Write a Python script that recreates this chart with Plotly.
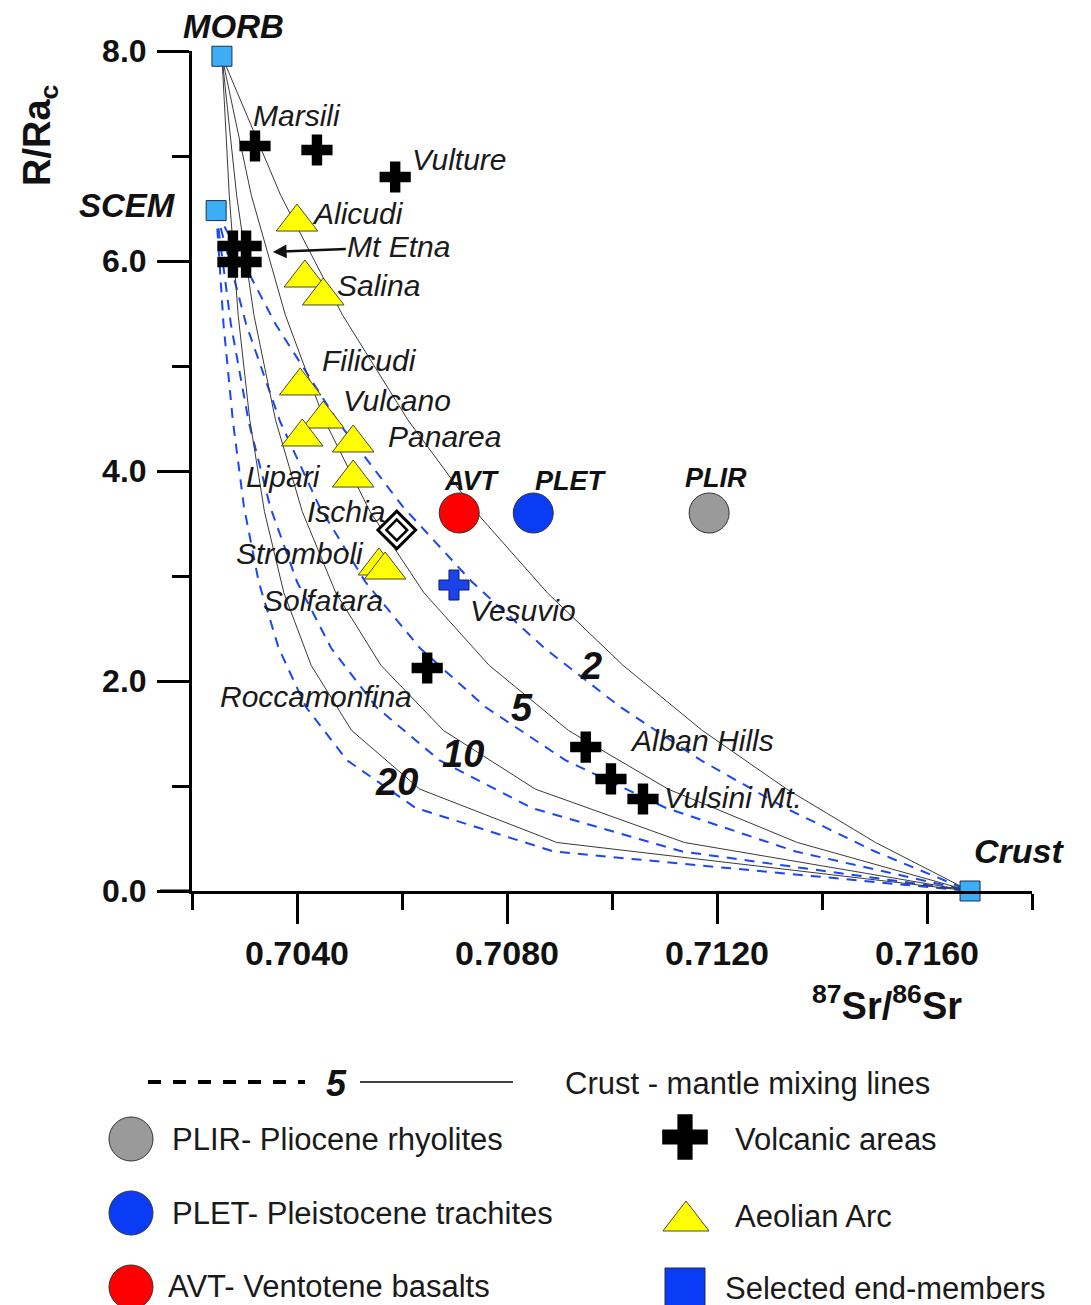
import plotly.graph_objects as go

W, H = 1091, 1305
FONT = "Liberation Sans, Arial, sans-serif"

# ---------------- data ----------------
# end-members (87Sr/86Sr, R/Rac)
end_names = ["MORB", "SCEM", "Crust"]
end_sr = [0.70257, 0.70246, 0.71682]
end_rra = [7.95, 6.48, 0.0]

# volcanic areas (black crosses)
volc_sr = [0.70320, 0.70438, 0.70587, 0.70278, 0.70303, 0.70278, 0.70303,
           0.70648, 0.70950, 0.70998, 0.71059]
volc_rra = [7.095, 7.057, 6.800, 6.143, 6.143, 5.990, 5.990,
            2.124, 1.371, 1.067, 0.876]

# Vesuvio (blue cross) and Ischia (diamond)
vesuvio_sr = [0.70699]
vesuvio_rra = [2.914]
ischia_sr = [0.70590]
ischia_rra = [3.438]

# Aeolian Arc (yellow triangles)
aeolian_sr = [0.70400, 0.70415, 0.70450, 0.70406, 0.70450, 0.70410, 0.70507,
              0.70507, 0.70556, 0.70568]
aeolian_rra = [6.371, 5.838, 5.667, 4.810, 4.495, 4.324, 4.267,
               3.933, 3.095, 3.057]

# Pontine volcanics (circles)
circle_names = ["AVT", "PLET", "PLIR"]
circle_sr = [0.70709, 0.70850, 0.71185]
circle_rra = [3.60, 3.60, 3.60]

# crust - mantle mixing lines (vertices)
mix_labels = ["2", "5", "10", "20"]
mix_rra_morb = [7.95, 6.625, 5.483, 4.488, 3.614, 2.839, 2.149, 1.529, 0.970, 0.462, 0.0]
mix_rra_scem = [6.48, 5.400, 4.469, 3.658, 2.945, 2.314, 1.752, 1.246, 0.791, 0.376, 0.0]
mix_sr_morb_2 = [0.70257, 0.70369, 0.70487, 0.70611, 0.70740, 0.70877, 0.71021, 0.71172, 0.71333, 0.71502, 0.71682]
mix_sr_morb_5 = [0.70257, 0.70313, 0.70378, 0.70452, 0.70539, 0.70642, 0.70766, 0.70917, 0.71107, 0.71353, 0.71682]
mix_sr_morb_10 = [0.70257, 0.70285, 0.70318, 0.70359, 0.70410, 0.70474, 0.70560, 0.70679, 0.70854, 0.71138, 0.71682]
mix_sr_morb_20 = [0.70257, 0.70271, 0.70288, 0.70310, 0.70338, 0.70375, 0.70427, 0.70504, 0.70634, 0.70895, 0.71682]
mix_sr_scem_2 = [0.70246, 0.70359, 0.70478, 0.70602, 0.70733, 0.70871, 0.71016, 0.71169, 0.71330, 0.71501, 0.71682]
mix_sr_scem_5 = [0.70246, 0.70303, 0.70368, 0.70443, 0.70530, 0.70634, 0.70759, 0.70911, 0.71103, 0.71350, 0.71682]
mix_sr_scem_10 = [0.70246, 0.70274, 0.70308, 0.70349, 0.70400, 0.70465, 0.70551, 0.70671, 0.70847, 0.71134, 0.71682]
mix_sr_scem_20 = [0.70246, 0.70260, 0.70278, 0.70299, 0.70327, 0.70365, 0.70417, 0.70495, 0.70626, 0.70889, 0.71682]

# axis ticks
x_major = [0.7040, 0.7080, 0.7120, 0.7160]
x_major_text = ["0.7040", "0.7080", "0.7120", "0.7160"]
x_minor = [0.7020, 0.7060, 0.7100, 0.7140, 0.7180]
y_major = [0, 2, 4, 6, 8]
y_major_text = ["0.0", "2.0", "4.0", "6.0", "8.0"]
y_minor = [1, 3, 5, 7]

# text labels placed in data space
site_labels = ["Marsili", "Vulture", "Alicudi", "Salina", "Filicudi", "Vulcano",
               "Panarea", "Lipari", "Ischia", "Stromboli", "Solfatara", "Vesuvio",
               "Roccamonfina", "Alban Hills", "Vulsini Mt."]
site_label_sr = [0.70400, 0.70709, 0.70516, 0.70556, 0.70539, 0.70590,
                 0.70680, 0.70375, 0.70493, 0.70406, 0.70450, 0.70831,
                 0.70436, 0.71171, 0.71230]
site_label_rra = [7.390, 6.962, 6.457, 5.771, 5.057, 4.667,
                  4.333, 3.952, 3.610, 3.210, 2.771, 2.676,
                  1.857, 1.429, 0.886]
bold_labels = ["Crust", "AVT", "PLET", "PLIR"]
bold_label_sr = [0.71775, 0.70733, 0.70922, 0.71198]
bold_label_rra = [0.381, 3.905, 3.905, 3.933]
bold_label_size = [34, 27, 27, 27]
# end-member names that sit outside the axis range (page pixel positions)
outer_labels = ["MORB", "SCEM"]
outer_label_px = [233, 127]
outer_label_py = [26, 205]
mix_label_sr = [0.70960, 0.70829, 0.70716, 0.70589]
mix_label_rra = [2.143, 1.743, 1.305, 1.038]

# ---------------- figure ----------------
fig = go.Figure()

morb_x = [mix_sr_morb_2, mix_sr_morb_5, mix_sr_morb_10, mix_sr_morb_20]
scem_x = [mix_sr_scem_2, mix_sr_scem_5, mix_sr_scem_10, mix_sr_scem_20]
for xs in scem_x:
    fig.add_trace(go.Scatter(x=xs, y=mix_rra_scem, mode="lines",
                             line=dict(color="#1a47f5", width=2, dash="10px,8px"),
                             hoverinfo="skip", showlegend=False, cliponaxis=False))
for xs in morb_x:
    fig.add_trace(go.Scatter(x=xs, y=mix_rra_morb, mode="lines",
                             line=dict(color="#3a3a3a", width=1),
                             hoverinfo="skip", showlegend=False, cliponaxis=False))

# circles
fig.add_trace(go.Scatter(x=circle_sr, y=circle_rra, mode="markers",
                         marker=dict(size=40, color=["#ff0000", "#0a3cf5", "#9a9a9a"],
                                     line=dict(color="#333333", width=1)),
                         showlegend=False, cliponaxis=False))
# triangles
fig.add_trace(go.Scatter(x=aeolian_sr, y=aeolian_rra, mode="markers",
                         marker=dict(symbol="triangle-up", size=36, color="#ffff00",
                                     line=dict(color="#4a4a2a", width=1)),
                         showlegend=False, cliponaxis=False))
# Ischia double diamond
fig.add_trace(go.Scatter(x=ischia_sr, y=ischia_rra, mode="markers",
                         marker=dict(symbol="diamond", size=29, color="white",
                                     line=dict(color="black", width=3)),
                         showlegend=False, cliponaxis=False))
fig.add_trace(go.Scatter(x=ischia_sr, y=ischia_rra, mode="markers",
                         marker=dict(symbol="diamond", size=16, color="white",
                                     line=dict(color="black", width=2.5)),
                         showlegend=False, cliponaxis=False))
# crosses
fig.add_trace(go.Scatter(x=volc_sr, y=volc_rra, mode="markers",
                         marker=dict(symbol="cross", size=26, color="black",
                                     line=dict(width=0)),
                         showlegend=False, cliponaxis=False))
fig.add_trace(go.Scatter(x=vesuvio_sr, y=vesuvio_rra, mode="markers",
                         marker=dict(symbol="cross", size=25, color="#1a44e8",
                                     line=dict(color="#0b1a70", width=1)),
                         showlegend=False, cliponaxis=False))
# end-members
fig.add_trace(go.Scatter(x=end_sr, y=end_rra, mode="markers",
                         marker=dict(symbol="square", size=20, color="#3daef5",
                                     line=dict(color="#1b3050", width=1)),
                         showlegend=False, cliponaxis=False))

# ---------------- legend glyphs (pixel overlay axes) ----------------
leg = dict(xaxis="x2", yaxis="y2", showlegend=False, hoverinfo="skip", cliponaxis=False)
fig.add_trace(go.Scatter(x=[148, 305], y=[1082, 1082], mode="lines",
                         line=dict(color="black", width=4, dash="13px,12px"), **leg))
fig.add_trace(go.Scatter(x=[360, 513], y=[1082, 1082], mode="lines",
                         line=dict(color="black", width=1.5), **leg))
fig.add_trace(go.Scatter(x=[131, 131, 131], y=[1139, 1213, 1287], mode="markers",
                         marker=dict(size=44, color=["#9a9a9a", "#0a3cf5", "#ff0000"],
                                     line=dict(color="#333333", width=1)), **leg))
fig.add_trace(go.Scatter(x=[685], y=[1137], mode="markers",
                         marker=dict(symbol="cross", size=38, color="black", line=dict(width=0)), **leg))
fig.add_trace(go.Scatter(x=[686], y=[1221], mode="markers",
                         marker=dict(symbol="triangle-up", size=40, color="#ffff00",
                                     line=dict(color="#4a4a2a", width=1)), **leg))
fig.add_trace(go.Scatter(x=[685], y=[1288], mode="markers",
                         marker=dict(symbol="square", size=40, color="#0a3cf5",
                                     line=dict(color="#1b3050", width=1)), **leg))

annotations = []
for t, xs, ys in zip(site_labels, site_label_sr, site_label_rra):
    annotations.append(dict(x=xs, y=ys, xref="x", yref="y", text="<i>%s</i>" % t,
                            showarrow=False, font=dict(family=FONT, size=30, color="#1a1a1a")))
for t, xs, ys, s in zip(bold_labels, bold_label_sr, bold_label_rra, bold_label_size):
    annotations.append(dict(x=xs, y=ys, xref="x", yref="y", text="<b><i>%s</i></b>" % t,
                            showarrow=False, font=dict(family=FONT, size=s, color="#111111")))
for t, xx, yy in zip(outer_labels, outer_label_px, outer_label_py):
    annotations.append(dict(x=xx, y=yy, xref="x2", yref="y2", text="<b><i>%s</i></b>" % t,
                            showarrow=False, font=dict(family=FONT, size=33, color="#111111")))
for t, xs, ys in zip(mix_labels, mix_label_sr, mix_label_rra):
    annotations.append(dict(x=xs, y=ys, xref="x", yref="y", text="<b><i>%s</i></b>" % t,
                            showarrow=False, font=dict(family=FONT, size=38, color="#111111")))
# Mt Etna with arrow
annotations.append(dict(x=0.70354, y=6.086, xref="x", yref="y", text="<i>Mt Etna</i>",
                        showarrow=True, ax=126, ay=-5, arrowhead=2, arrowsize=1.1,
                        arrowwidth=2.5, arrowcolor="#111111", standoff=0,
                        font=dict(family=FONT, size=30, color="#1a1a1a")))
# axis titles
annotations.append(dict(x=40, y=135, xref="x2", yref="y2", text="<b>R/Ra<sub>c</sub></b>",
                        textangle=-90, showarrow=False,
                        font=dict(family=FONT, size=38, color="#111111")))
annotations.append(dict(x=887, y=1003, xref="x2", yref="y2",
                        text="<b><sup>87</sup>Sr/<sup>86</sup>Sr</b>", showarrow=False,
                        font=dict(family=FONT, size=38, color="#111111")))
# legend text
annotations.append(dict(x=336, y=1083, xref="x2", yref="y2", text="<b><i>5</i></b>",
                        showarrow=False, font=dict(family=FONT, size=36, color="#111111")))
legend_texts = ["Crust - mantle mixing lines", "PLIR- Pliocene rhyolites", "Volcanic areas",
                "PLET- Pleistocene trachites", "Aeolian Arc", "AVT- Ventotene basalts",
                "Selected end-members"]
legend_tx = [563, 170, 733, 170, 733, 166, 723]
legend_ty = [1083, 1139, 1139, 1213, 1216, 1286, 1288]
for t, xx, yy in zip(legend_texts, legend_tx, legend_ty):
    annotations.append(dict(x=xx, y=yy, xref="x2", yref="y2", text=t, xanchor="left",
                            showarrow=False, font=dict(family=FONT, size=31, color="#1a1a1a")))

shapes = [dict(type="line", xref="paper", yref="paper", x0=160 / W, x1=192 / W,
               y0=1 - 891 / H, y1=1 - 891 / H, line=dict(color="black", width=3))]

fig.update_layout(
    width=W, height=H, margin=dict(l=0, r=0, t=0, b=0, autoexpand=False),
    paper_bgcolor="white", plot_bgcolor="rgba(0,0,0,0)",
    showlegend=False,
    xaxis=dict(domain=[192 / W, 1032 / W], range=[0.7020, 0.7180], anchor="y",
               automargin=False,
               showline=True, linewidth=3, linecolor="black", showgrid=False, zeroline=False,
               ticks="outside", ticklen=30, tickwidth=3, tickcolor="black",
               tickvals=x_major, ticktext=["<b>%s</b>" % t for t in x_major_text],
               tickfont=dict(family=FONT, size=34, color="#111111"), ticklabelstandoff=0,
               minor=dict(tickvals=x_minor, ticks="outside", ticklen=16, tickwidth=3,
                          tickcolor="black", showgrid=False)),
    yaxis=dict(domain=[1 - 891 / H, 1 - 51 / H], range=[0, 8], anchor="x",
               automargin=False,
               showline=True, linewidth=3, linecolor="black", showgrid=False, zeroline=False,
               ticks="outside", ticklen=32, tickwidth=3, tickcolor="black",
               tickvals=y_major, ticktext=["<b>%s</b>" % t for t in y_major_text],
               tickfont=dict(family=FONT, size=32, color="#111111"), ticklabelstandoff=4,
               minor=dict(tickvals=y_minor, ticks="outside", ticklen=17, tickwidth=3,
                          tickcolor="black", showgrid=False)),
    xaxis2=dict(domain=[0, 1], range=[0, W], anchor="y2", visible=False, fixedrange=True,
                automargin=False),
    yaxis2=dict(domain=[0, 1], range=[H, 0], anchor="x2", visible=False, fixedrange=True,
                automargin=False),
    annotations=annotations, shapes=shapes,
)

fig.write_html("out.html", config={"displayModeBar": False},
               post_script="document.body.style.margin='0';document.body.style.overflow='hidden';")
